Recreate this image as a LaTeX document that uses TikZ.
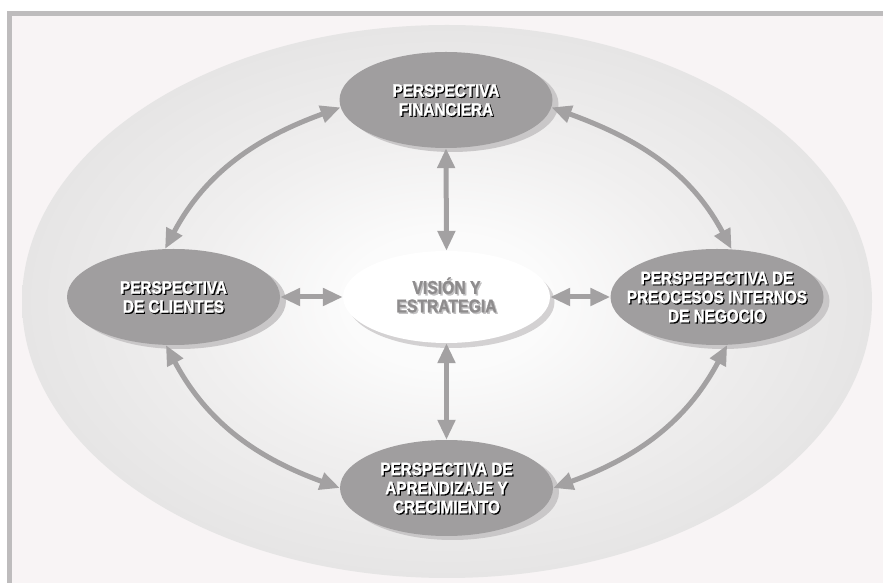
\documentclass[tikz,border=0pt]{standalone}
\usepackage{fontspec}
\usetikzlibrary{shapes.geometric,arrows.meta}
\newfontfamily\lblfont{Liberation Sans Bold}[FakeStretch=0.85, FakeBold=1.2]
\definecolor{framegray}{HTML}{BEBCBD}
\definecolor{pagebg}{HTML}{F8F4F5}
\definecolor{ringout}{HTML}{E6E5E5}
\definecolor{ringmid}{HTML}{F0EFEF}
\definecolor{ringin}{HTML}{FBFBFB}
\definecolor{nodegray}{HTML}{A09E9F}
\definecolor{shadowgray}{HTML}{C9C7C8}
\definecolor{arrowgray}{HTML}{A3A1A2}
\definecolor{vistext}{HTML}{8E8C8D}
\definecolor{visshadow}{HTML}{D3D1D2}
\pgfdeclareradialshading{fieldshade}{\pgfpointorigin}{color(0bp)=(ringin); color(6bp)=(ringin); color(15bp)=(ringmid); color(25bp)=(ringout); color(50bp)=(ringout)}
\begin{document}
\begin{tikzpicture}[x=1pt,y=1pt,
  persp/.style={ellipse, fill=nodegray, minimum width=213pt, minimum height=96pt, inner sep=0pt},
  pshadow/.style={ellipse, fill=shadowgray, minimum width=213pt, minimum height=96pt, inner sep=0pt},
  vision/.style={ellipse, fill=white, minimum width=207pt, minimum height=92pt, inner sep=0pt},
  vshadow/.style={ellipse, fill=visshadow, minimum width=207pt, minimum height=92pt, inner sep=0pt},
  ptext/.style={text=white, align=center, font=\lblfont\fontsize{18}{19}\selectfont, inner sep=0pt},
  ptextsh/.style={ptext, text=black},
  vtext/.style={text=vistext, align=center, font=\lblfont\fontsize{18.5}{18.5}\selectfont, inner sep=0pt},
  vtextsh/.style={vtext, text=visshadow!80!gray},
  arr/.style={draw=arrowgray, line width=5pt, {Triangle[length=20pt,width=17pt]}-{Triangle[length=20pt,width=17pt]}}
]
\useasboundingbox (0,0) rectangle (883,583);
\clip (0,0) rectangle (883,583);
\fill[white] (0,0) rectangle (883,583);
\draw[framegray, line width=5.3pt, fill=pagebg] (9.3,569.8) rectangle (950,-50);

% background field
\node[ellipse, minimum width=850pt, minimum height=553pt, inner sep=0pt, shading=fieldshade] (field) at (447,281.5) {};

% shadows
\node[pshadow] (finsh) at (452,479) {};
\node[pshadow] (clish) at (179.5,282) {};
\node[pshadow] (prosh) at (723,282) {};
\node[pshadow] (aprsh) at (452.5,91) {};
\node[vshadow] (vissh) at (451,281) {};

% main ellipses
\node[persp] (fin) at (446,483) {};
\node[persp] (cli) at (173.5,286) {};
\node[persp] (pro) at (717,286) {};
\node[persp] (apr) at (446.5,95) {};
\node[vision] (vis) at (446.5,286) {};

% texts (shadow first)
\node[ptextsh] (fints) at ([shift={(1.2,-1.2)}]fin.center) {PERSPECTIVA\\FINANCIERA};
\node[ptext] (fint) at (fin.center) {PERSPECTIVA\\FINANCIERA};
\node[ptextsh] (clits) at ([shift={(1.2,-1.2)}]cli.center) {PERSPECTIVA\\DE CLIENTES};
\node[ptext] (clit) at (cli.center) {PERSPECTIVA\\DE CLIENTES};
\node[ptextsh] (prots) at ([shift={(1.2,-1.2)}]pro.center) {PERSPEPECTIVA DE\\PREOCESOS INTERNOS\\DE NEGOCIO};
\node[ptext] (prot) at (pro.center) {PERSPEPECTIVA DE\\PREOCESOS INTERNOS\\DE NEGOCIO};
\node[ptextsh] (aprts) at ([shift={(1.2,-1.2)}]apr.center) {PERSPECTIVA DE\\APRENDIZAJE Y\\CRECIMIENTO};
\node[ptext] (aprt) at (apr.center) {PERSPECTIVA DE\\APRENDIZAJE Y\\CRECIMIENTO};
\node[vtextsh] (vists) at ([shift={(1.5,0.5)}]vis.center) {VISIÓN Y\\ESTRATEGIA};
\node[vtext] (vist) at ([yshift=2pt]vis.center) {VISIÓN Y\\ESTRATEGIA};

% connectors
\draw[arr] (fin.south) -- (vis.north);
\draw[arr] (vis.south) -- (apr.north);
\draw[arr] (cli.east) -- (vis.west);
\draw[arr] (vis.east) -- (pro.west);
\draw[arr] (cli.100) to[out=62,in=200] (fin.184);
\draw[arr] (fin.-4) to[out=-20,in=118] (pro.73);
\draw[arr] (cli.261) to[out=-62,in=160] (apr.180);
\draw[arr] (pro.282) to[out=242,in=20] (apr.0);
\end{tikzpicture}
\end{document}
